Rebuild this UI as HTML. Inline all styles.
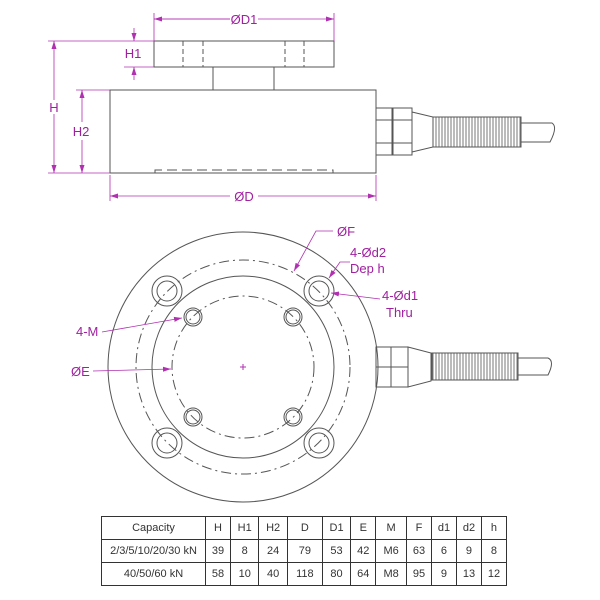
<!DOCTYPE html>
<html><head><meta charset="utf-8"><style>
html,body{margin:0;padding:0;background:#fff;}
svg{display:block;font-family:"Liberation Sans",Arial,sans-serif;}
.l{stroke:#555;fill:none;stroke-width:1}
.d{stroke:#555;fill:none;stroke-width:1;stroke-dasharray:10 4 2 4}
.m{stroke:#b030b0;fill:none;stroke-width:0.8}
.t{fill:#a020a0;font-size:13px}
td{border:1px solid #333;text-align:center;font-size:11px;color:#333;padding:0;height:22px}
</style></head><body>
<svg width="600" height="600" viewBox="0 0 600 600">
<defs>
<marker id="a" markerWidth="8" markerHeight="6" refX="8" refY="3" orient="auto" markerUnits="userSpaceOnUse"><path d="M0,0.5 L8,3 L0,5.5z" fill="#b030b0"/></marker>
</defs>
<!-- side view -->
<rect class="l" x="154" y="41" width="180" height="26"/>
<g stroke="#555" stroke-dasharray="5 3"><line x1="183" y1="41" x2="183" y2="67"/><line x1="203" y1="41" x2="203" y2="67"/><line x1="285" y1="41" x2="285" y2="67"/><line x1="304" y1="41" x2="304" y2="67"/></g>
<rect class="l" x="213" y="67" width="61" height="23"/>
<rect class="l" x="110" y="90" width="266" height="83"/>
<path d="M155,173 V170 H333 V173" stroke="#555" fill="none" stroke-dasharray="10 5"/>
<!-- cable side -->
<rect class="l" x="376" y="108" width="16" height="47"/>
<line class="l" x1="376" y1="120" x2="392" y2="120"/><line class="l" x1="376" y1="143" x2="392" y2="143"/>
<rect class="l" x="393" y="108" width="19" height="47"/>
<line class="l" x1="393" y1="120" x2="412" y2="120"/><line class="l" x1="393" y1="143" x2="412" y2="143"/>
<path class="l" d="M412,112 L433,117 V147 L412,152z"/>
<rect x="433" y="117" width="88" height="30" fill="url(#sp)" stroke="#555"/>
<pattern id="sp" width="3" height="30" patternUnits="userSpaceOnUse"><line x1="1" y1="0" x2="1" y2="30" stroke="#777"/></pattern>
<path class="l" d="M521,123 H552 Q558,127 550,142 H521"/>
<!-- dims side -->
<line class="m" x1="154" y1="13" x2="154" y2="41"/><line class="m" x1="334" y1="13" x2="334" y2="41"/>
<line class="m" x1="154" y1="19" x2="230" y2="19" marker-start="url(#a)" style="marker-start:none"/>
<line class="m" x1="230" y1="19" x2="154" y2="19" marker-end="url(#a)"/>
<line class="m" x1="258" y1="19" x2="334" y2="19" marker-end="url(#a)"/>
<text class="t" x="244" y="24" text-anchor="middle">ØD1</text>
<line class="m" x1="48" y1="41" x2="154" y2="41"/><line class="m" x1="124" y1="67" x2="154" y2="67"/>
<line class="m" x1="134" y1="28" x2="134" y2="41" marker-end="url(#a)"/>
<line class="m" x1="134" y1="80" x2="134" y2="67" marker-end="url(#a)"/>
<text class="t" x="133" y="58" text-anchor="middle">H1</text>
<line class="m" x1="48" y1="173" x2="110" y2="173"/><line class="m" x1="76" y1="90" x2="110" y2="90"/>
<line class="m" x1="54" y1="100" x2="54" y2="41" marker-end="url(#a)"/>
<line class="m" x1="54" y1="114" x2="54" y2="173" marker-end="url(#a)"/>
<text class="t" x="54" y="112" text-anchor="middle">H</text>
<line class="m" x1="82" y1="122" x2="82" y2="90" marker-end="url(#a)"/>
<line class="m" x1="82" y1="140" x2="82" y2="173" marker-end="url(#a)"/>
<text class="t" x="81" y="136" text-anchor="middle">H2</text>
<line class="m" x1="110" y1="175" x2="110" y2="201"/><line class="m" x1="376" y1="175" x2="376" y2="201"/>
<line class="m" x1="230" y1="196" x2="110" y2="196" marker-end="url(#a)"/>
<line class="m" x1="258" y1="196" x2="376" y2="196" marker-end="url(#a)"/>
<text class="t" x="244" y="201" text-anchor="middle">ØD</text>
<!-- bottom view -->
<circle class="l" cx="243" cy="367" r="135"/>
<circle class="d" cx="243" cy="367" r="107"/>
<circle class="l" cx="243" cy="367" r="91"/>
<circle class="d" cx="243" cy="367" r="71"/>
<path d="M240,367 h6 M243,364 v6" stroke="#b030b0"/>
<g class="l">
<circle cx="167" cy="291" r="15"/><circle cx="167" cy="291" r="10"/>
<circle cx="319" cy="291" r="15"/><circle cx="319" cy="291" r="10"/>
<circle cx="167" cy="443" r="15"/><circle cx="167" cy="443" r="10"/>
<circle cx="319" cy="443" r="15"/><circle cx="319" cy="443" r="10"/>
<circle cx="193" cy="317" r="9"/><circle cx="193" cy="317" r="7"/>
<circle cx="293" cy="317" r="9"/><circle cx="293" cy="317" r="7"/>
<circle cx="193" cy="417" r="9"/><circle cx="193" cy="417" r="7"/>
<circle cx="293" cy="417" r="9"/><circle cx="293" cy="417" r="7"/>
</g>
<!-- cable bottom -->
<rect class="l" x="376" y="347" width="15" height="40"/>
<rect class="l" x="391" y="347" width="17" height="40"/>
<line class="l" x1="376" y1="367" x2="408" y2="367"/>
<path class="l" d="M408,347 L431,353 V381 L408,387z"/>
<rect x="432" y="353" width="86" height="27" fill="url(#sp)" stroke="#555"/>
<path class="l" d="M518,358 H548 Q555,361 548,375 H518"/>
<!-- labels bottom -->
<path class="m" d="M333,231 H316 L294,271" marker-end="url(#a)"/>
<text class="t" x="337" y="236">ØF</text>
<text class="t" x="350" y="257">4-Ød2</text>
<text class="t" x="350" y="273">Dep h</text>
<path class="m" d="M350,262 H340 L329,278" marker-end="url(#a)"/>
<text class="t" x="382" y="300">4-Ød1</text>
<text class="t" x="386" y="317">Thru</text>
<line class="m" x1="380" y1="299" x2="331" y2="293" marker-end="url(#a)"/>
<text class="t" x="76" y="336">4-M</text>
<line class="m" x1="102" y1="332" x2="182" y2="318" marker-end="url(#a)"/>
<text class="t" x="71" y="376">ØE</text>
<line class="m" x1="93" y1="371" x2="171" y2="369" marker-end="url(#a)"/>
<!-- table -->
<foreignObject x="101" y="516" width="408" height="72">
<table xmlns="http://www.w3.org/1999/xhtml" style="border-collapse:collapse;width:406px;border:1.5px solid #333;font-family:'Liberation Sans',Arial,sans-serif">
<tr><td style="width:103px">Capacity</td><td>H</td><td>H1</td><td>H2</td><td>D</td><td>D1</td><td>E</td><td>M</td><td>F</td><td>d1</td><td>d2</td><td>h</td></tr>
<tr><td>2/3/5/10/20/30 kN</td><td>39</td><td>8</td><td>24</td><td>79</td><td>53</td><td>42</td><td>M6</td><td>63</td><td>6</td><td>9</td><td>8</td></tr>
<tr><td>40/50/60 kN</td><td>58</td><td>10</td><td>40</td><td>118</td><td>80</td><td>64</td><td>M8</td><td>95</td><td>9</td><td>13</td><td>12</td></tr>
</table></foreignObject>
</svg>
</body></html>
